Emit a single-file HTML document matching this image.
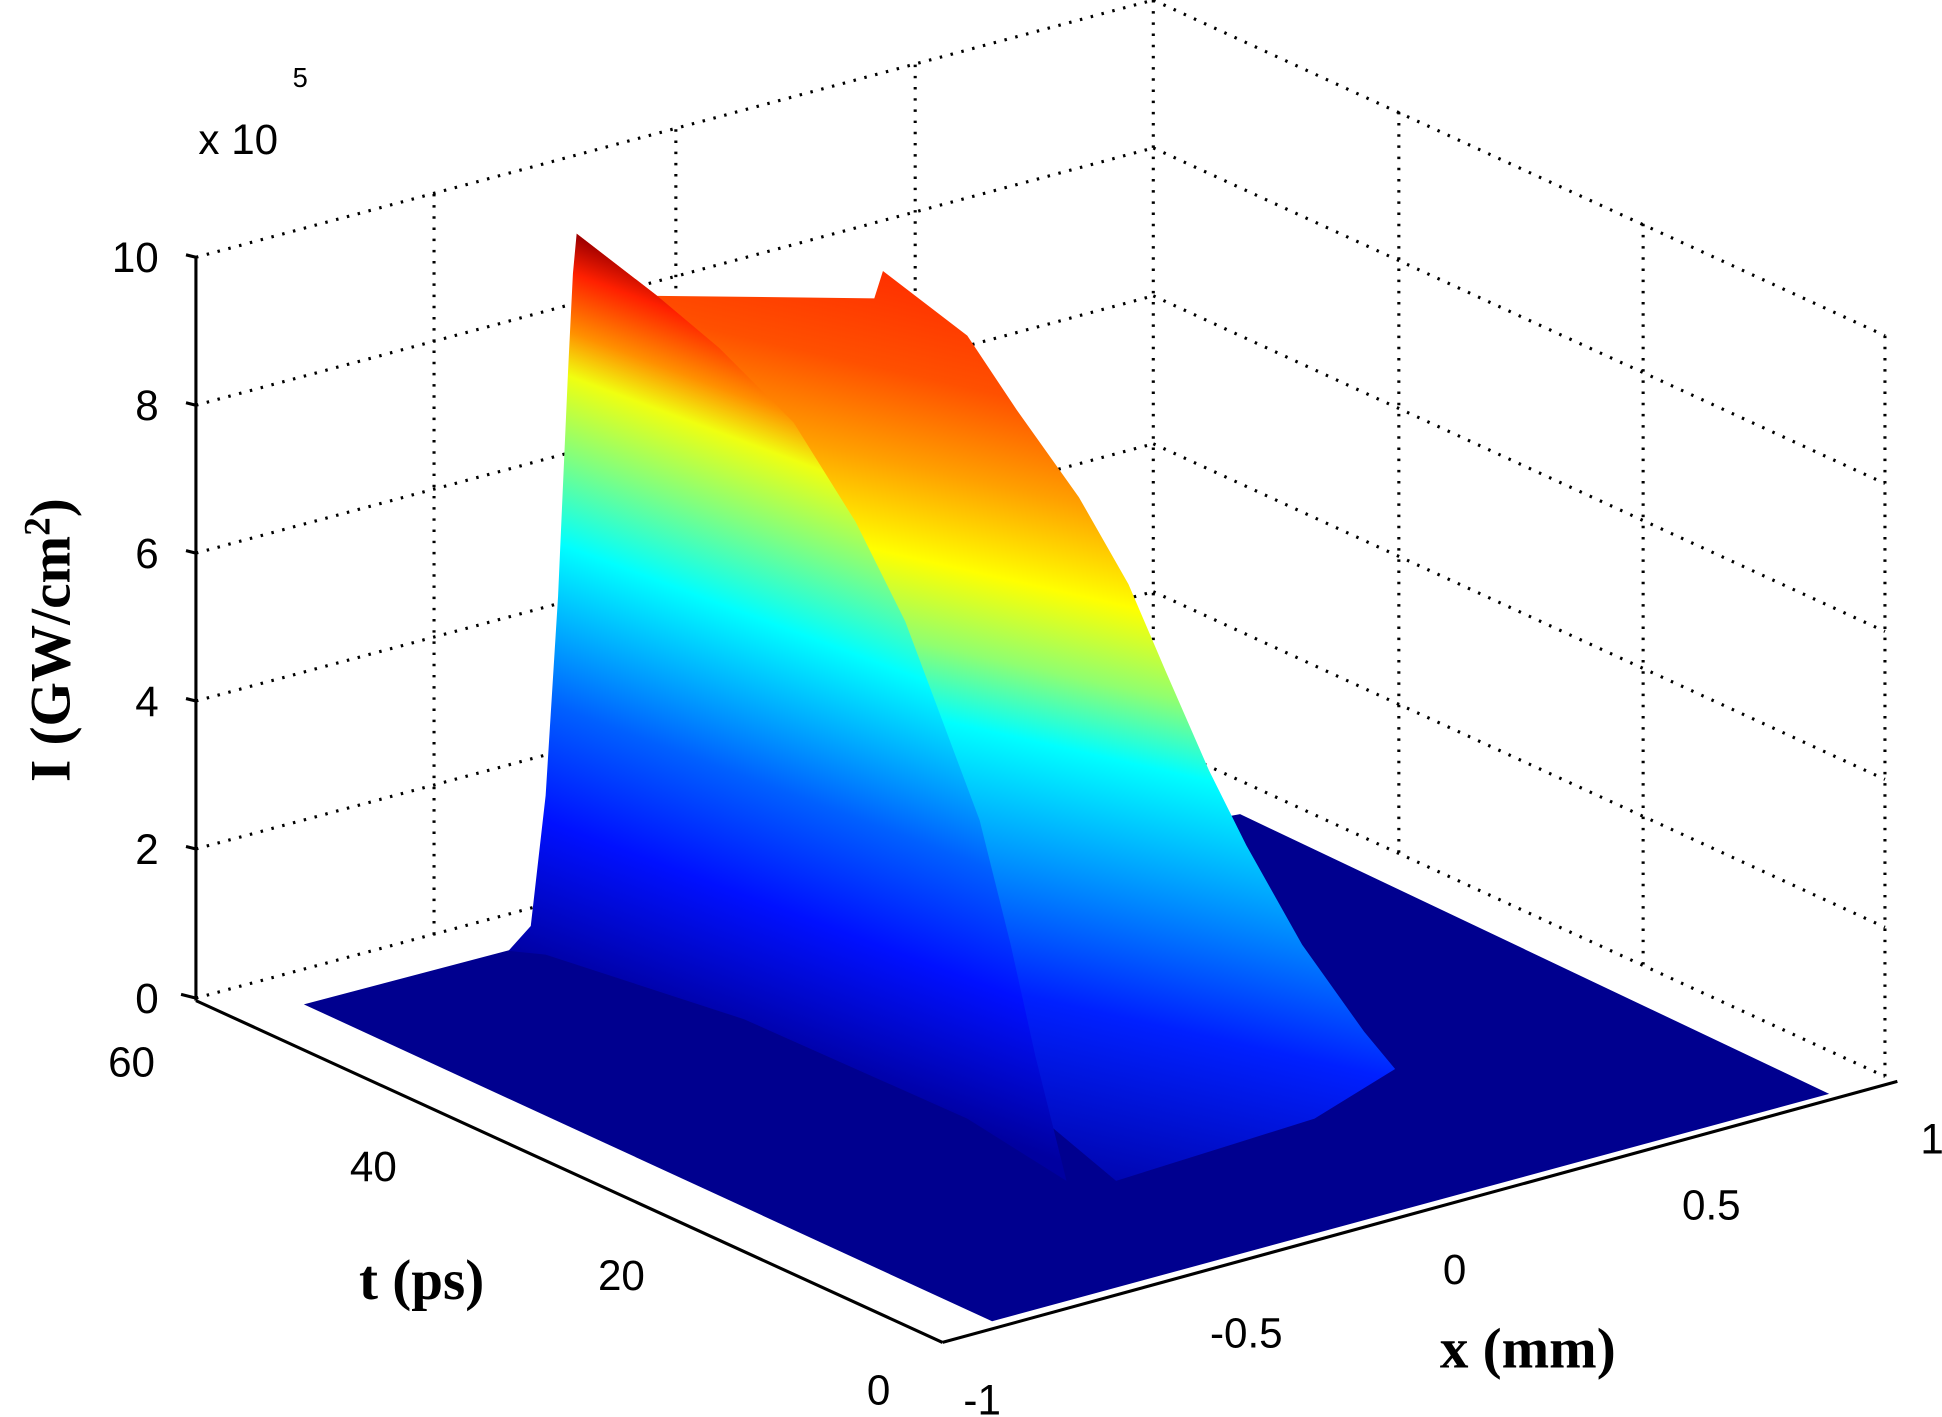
<!DOCTYPE html>
<html><head><meta charset="utf-8"><style>
html,body{margin:0;padding:0;background:#fff;}
svg{display:block;}
</style></head><body>
<svg width="1942" height="1417" viewBox="0 0 1566 1140" preserveAspectRatio="none" xmlns="http://www.w3.org/2000/svg">
<defs>
<linearGradient id="gl" gradientUnits="userSpaceOnUse" x1="462" y1="190" x2="266" y2="716">
<stop offset="0" stop-color="#a00000"/>
<stop offset="0.05" stop-color="#ff2000"/>
<stop offset="0.13" stop-color="#ff9000"/>
<stop offset="0.19" stop-color="#f0ff10"/>
<stop offset="0.3" stop-color="#80ff80"/>
<stop offset="0.42" stop-color="#00ffff"/>
<stop offset="0.53" stop-color="#00b0ff"/>
<stop offset="0.64" stop-color="#0060ff"/>
<stop offset="0.8" stop-color="#0010ff"/>
<stop offset="1" stop-color="#0000a0"/>
</linearGradient>
<linearGradient id="gr" gradientUnits="userSpaceOnUse" x1="800" y1="220" x2="642" y2="922">
<stop offset="0" stop-color="#ff2800"/>
<stop offset="0.13" stop-color="#ff5000"/>
<stop offset="0.23" stop-color="#ffa000"/>
<stop offset="0.33" stop-color="#ffff00"/>
<stop offset="0.42" stop-color="#90ff70"/>
<stop offset="0.5" stop-color="#00ffff"/>
<stop offset="0.62" stop-color="#00a0ff"/>
<stop offset="0.78" stop-color="#0020ff"/>
<stop offset="1" stop-color="#0000a0"/>
</linearGradient>
</defs>
<g stroke="#000" stroke-width="2.5" stroke-dasharray="2 7" fill="none">
<line x1="158" y1="207" x2="930" y2="0"/>
<line x1="158" y1="326" x2="930" y2="119"/>
<line x1="158" y1="445" x2="930" y2="238"/>
<line x1="158" y1="564" x2="930" y2="357"/>
<line x1="158" y1="683" x2="930" y2="476"/>
<line x1="158" y1="803" x2="930" y2="596"/>
<line x1="930" y1="0" x2="1520" y2="270"/>
<line x1="930" y1="119" x2="1520" y2="389"/>
<line x1="930" y1="238" x2="1520" y2="508"/>
<line x1="930" y1="357" x2="1520" y2="627"/>
<line x1="930" y1="476" x2="1520" y2="746"/>
<line x1="930" y1="596" x2="1520" y2="866"/>
<line x1="350" y1="156" x2="350" y2="752"/>
<line x1="545" y1="104" x2="545" y2="700"/>
<line x1="738" y1="52" x2="738" y2="648"/>
<line x1="930" y1="0" x2="930" y2="596"/>
<line x1="1128" y1="90" x2="1128" y2="686"/>
<line x1="1325" y1="180" x2="1325" y2="776"/>
<line x1="1520" y1="270" x2="1520" y2="866"/>
</g>
<polygon points="245,808 420,762 1000,655 1475,880 800,1063" fill="#00008f"/>
<polygon points="465,188 530,238 705,240 712,218 780,270 820,330 870,400 910,470 940,540 975,620 1005,680 1050,760 1100,830 1125,860 1060,900 900,950 840,900 700,700 560,400" fill="url(#gr)"/>
<polygon points="465,188 530,238 580,280 640,340 690,420 730,500 760,580 790,660 815,760 835,850 860,950 780,900 600,820 440,768 410,765 428,745 440,640 450,480 458,300 462,220" fill="url(#gl)"/>
<g stroke="#000" stroke-width="2.5" fill="none">
<line x1="158" y1="207" x2="158" y2="805"/>
<line x1="158" y1="805" x2="760" y2="1080"/>
<line x1="760" y1="1080" x2="1530" y2="870"/>
<line x1="158" y1="207" x2="150" y2="205"/><line x1="158" y1="326" x2="150" y2="324"/>
<line x1="158" y1="445" x2="150" y2="443"/><line x1="158" y1="564" x2="150" y2="562"/>
<line x1="158" y1="683" x2="150" y2="681"/><line x1="158" y1="803" x2="146" y2="800"/>
</g>
<g font-family="Liberation Sans, sans-serif" font-size="34" fill="#000">
<text x="128" y="219" text-anchor="end">10</text>
<text x="128" y="338" text-anchor="end">8</text>
<text x="128" y="457" text-anchor="end">6</text>
<text x="128" y="576" text-anchor="end">4</text>
<text x="128" y="695" text-anchor="end">2</text>
<text x="128" y="815" text-anchor="end">0</text>
<text x="125" y="866" text-anchor="end">60</text>
<text x="320" y="950" text-anchor="end">40</text>
<text x="520" y="1038" text-anchor="end">20</text>
<text x="718" y="1130" text-anchor="end">0</text>
<text x="792" y="1138" text-anchor="middle">-1</text>
<text x="1005" y="1084" text-anchor="middle">-0.5</text>
<text x="1173" y="1033" text-anchor="middle">0</text>
<text x="1380" y="981" text-anchor="middle">0.5</text>
<text x="1558" y="928" text-anchor="middle">1</text>
<text x="160" y="124">x 10</text>
<text x="236" y="70" font-size="22">5</text>
</g>
<g font-family="Liberation Serif, serif" font-weight="bold" font-size="46" fill="#000">
<text x="340" y="1045" text-anchor="middle">t (ps)</text>
<text x="1232" y="1100" text-anchor="middle">x (mm)</text>
<text transform="translate(56,515) rotate(-90)" text-anchor="middle">I (GW/cm<tspan font-size="30" dy="-16">2</tspan><tspan dy="16">)</tspan></text>
</g>
</svg>
</body></html>
